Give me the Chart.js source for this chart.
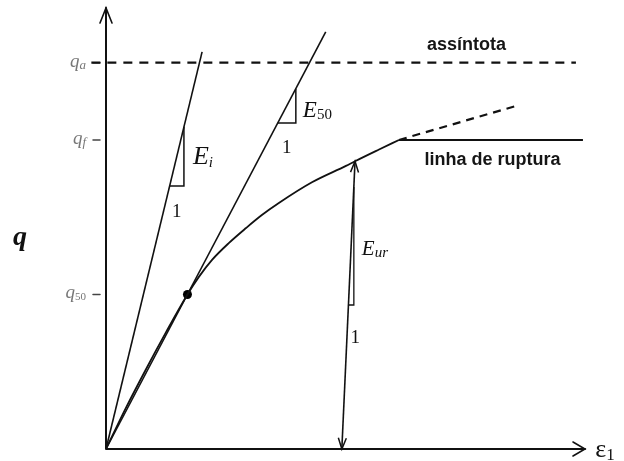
<!DOCTYPE html>
<html>
<head>
<meta charset="utf-8">
<script src="https://cdn.jsdelivr.net/npm/chart.js@4.4.1/dist/chart.umd.min.js"></script>
<style>
  html, body { margin: 0; background: #fff; }
</style>
</head>
<body>
<canvas id="stressStrain" width="624" height="461"></canvas>
<script>
// hyperbolic stress-strain curve (q normalised by qf, strain by failure strain)
const strain = [0, 0.068, 0.137, 0.205, 0.278, 0.317, 0.362, 0.420, 0.478, 0.532, 0.590, 0.703, 0.819, 0.850, 0.932, 1.0];
const deviator = [0, 0.133, 0.259, 0.378, 0.5, 0.557, 0.612, 0.667, 0.715, 0.757, 0.796, 0.863, 0.916, 0.931, 0.969, 1.0];

// reference stress levels on the q axis
const qLevels = [1.25, 1.0, 0.5];
const qSubs = ['a', 'f', '50'];

// straight construction lines, [strain, q]
const tangentEi = [[0, 0], [0.328, 1.285]];
const secantE50 = [[0, 0], [0.75, 1.35]];
const unloadEur = [[0.850, 0.931], [0.805, 0]];
const rupture = [[1.0, 1.0], [1.628, 1.0]];
const hyperTail = [[1.0, 1.0], [1.399, 1.11]];
const asymptote = [[-0.05, 1.25], [1.604, 1.25]];

// slope triangles
const triEi = [[0.217, 0.851], [0.266, 0.851], [0.266, 1.043]];
const triE50 = [[0.586, 1.055], [0.648, 1.055], [0.648, 1.166]];
const triEur = [[0.828, 0.466], [0.846, 0.466], [0.846, 0.848]];

// point at half the failure stress
const pointQ50 = [[0.278, 0.5]];

const pts = arr => arr.map(([x, y]) => ({ x, y }));
const ink = '#111';

function lineSet(arr, width, dash) {
  return {
    data: pts(arr),
    showLine: true,
    borderColor: ink,
    borderWidth: width,
    borderDash: dash || [],
    pointRadius: 0,
    fill: false,
    clip: false
  };
}

function arrowHead(ctx, x1, y1, x2, y2, len, half) {
  const a = Math.atan2(y2 - y1, x2 - x1);
  const c = Math.cos(a), s = Math.sin(a);
  ctx.beginPath();
  ctx.moveTo(x2 - len * c + half * s, y2 - len * s - half * c);
  ctx.lineTo(x2, y2);
  ctx.lineTo(x2 - len * c - half * s, y2 - len * s + half * c);
  ctx.stroke();
}

// base letter followed by a lowered subscript
function subText(ctx, base, baseFont, sub, subFont, x, y, dy, alignRight) {
  ctx.font = baseFont;
  const w1 = ctx.measureText(base).width;
  ctx.font = subFont;
  const w2 = ctx.measureText(sub).width;
  const x0 = alignRight ? x - w1 - w2 : x;
  ctx.textAlign = 'left';
  ctx.font = baseFont;
  ctx.fillText(base, x0, y);
  ctx.font = subFont;
  ctx.fillText(sub, x0 + w1, y + dy);
}

const annotate = {
  id: 'annotate',
  beforeDatasetsDraw(chart) {
    const { ctx, chartArea, scales: { x, y } } = chart;
    const ox = x.getPixelForValue(0), oy = y.getPixelForValue(0);
    ctx.save();
    ctx.strokeStyle = ink;
    ctx.lineWidth = 2;
    ctx.lineCap = 'round';
    ctx.beginPath();
    ctx.moveTo(ox, oy);
    ctx.lineTo(ox, chartArea.top);
    ctx.moveTo(ox, oy);
    ctx.lineTo(chartArea.right, oy);
    ctx.stroke();
    ctx.lineWidth = 1.6;
    arrowHead(ctx, ox, oy, ox, chartArea.top, 15, 6);
    arrowHead(ctx, ox, oy, chartArea.right, oy, 12, 7);

    // ticks and labels on the q axis
    ctx.fillStyle = '#777';
    ctx.strokeStyle = '#444';
    ctx.lineWidth = 1.5;
    qLevels.forEach((q, i) => {
      const py = y.getPixelForValue(q);
      ctx.beginPath();
      ctx.moveTo(ox - 13, py);
      ctx.lineTo(ox - 6, py);
      ctx.stroke();
      const subFont = qSubs[i] === '50' ? '11px "Liberation Serif"' : 'italic 13px "Liberation Serif"';
      subText(ctx, 'q', 'italic 19px "Liberation Serif"', qSubs[i], subFont, ox - 20, py + 4, 2, true);
    });
    ctx.restore();
  },
  afterDatasetsDraw(chart) {
    const { ctx, scales: { x, y } } = chart;
    const px = v => x.getPixelForValue(v), py = v => y.getPixelForValue(v);
    ctx.save();
    ctx.strokeStyle = ink;
    ctx.fillStyle = ink;
    ctx.lineWidth = 1.5;

    // unload/reload arrow heads
    const [top, bot] = unloadEur;
    arrowHead(ctx, px(bot[0]), py(bot[1]), px(top[0]), py(top[1]), 11, 4);
    arrowHead(ctx, px(top[0]), py(top[1]), px(bot[0]), py(bot[1]), 11, 4);

    const eFont = s => 'italic ' + s + 'px "Liberation Serif"';
    const oneFont = '19px "Liberation Serif"';
    ctx.textBaseline = 'alphabetic';

    // Ei
    const eiX = px(triEi[1][0]), eiTop = py(triEi[2][1]), eiBot = py(triEi[1][1]);
    subText(ctx, 'E', eFont(26), 'i', eFont(15), eiX + 9, (eiTop + eiBot) / 2 + 8, 3, false);
    ctx.font = oneFont; ctx.textAlign = 'center';
    ctx.fillText('1', (px(triEi[0][0]) + eiX) / 2, eiBot + 31);

    // E50
    const e5X = px(triE50[1][0]), e5Top = py(triE50[2][1]), e5Bot = py(triE50[1][1]);
    subText(ctx, 'E', eFont(23), '50', '15px "Liberation Serif"', e5X + 7, (e5Top + e5Bot) / 2 + 11, 2, false);
    ctx.font = oneFont; ctx.textAlign = 'center';
    ctx.fillText('1', (px(triE50[0][0]) + e5X) / 2, e5Bot + 30);

    // Eur
    const euX = px(triEur[1][0]), euTop = py(triEur[2][1]), euBot = py(triEur[1][1]);
    subText(ctx, 'E', eFont(21), 'ur', eFont(15), euX + 8, (euTop + euBot) / 2 + 9, 2, false);
    ctx.font = oneFont; ctx.textAlign = 'center';
    ctx.fillText('1', (px(triEur[0][0]) + euX) / 2 + 4, euBot + 38);

    // axis titles
    ctx.textAlign = 'left';
    ctx.font = 'bold italic 28px "Liberation Serif"';
    ctx.fillText('q', 13, py(0.66));
    subText(ctx, 'ε', '26px "Liberation Serif"', '1', '17px "Liberation Serif"', px(1.67), py(0) + 8, 3, false);

    // captions
    ctx.font = 'bold 18px "Liberation Sans"';
    ctx.fillStyle = '#151515';
    ctx.fillText('assíntota', px(1.096), py(1.29));
    ctx.fillText('linha de ruptura', px(1.087), py(0.92));
    ctx.restore();
  }
};

const curveSet = lineSet(strain.map((e, i) => [e, deviator[i]]), 1.8);
curveSet.cubicInterpolationMode = 'monotone';

new Chart(document.getElementById('stressStrain'), {
  type: 'scatter',
  data: {
    datasets: [
      curveSet,
      lineSet(rupture, 2),
      lineSet(hyperTail, 2.2, [8, 6]),
      lineSet(asymptote, 2.2, [9, 7]),
      lineSet(tangentEi, 1.6),
      lineSet(secantE50, 1.6),
      lineSet(unloadEur, 1.6),
      lineSet(triEi, 1.5),
      lineSet(triE50, 1.5),
      lineSet(triEur, 1.3),
      {
        data: pts(pointQ50),
        pointRadius: 4.5,
        pointBackgroundColor: '#000',
        pointBorderWidth: 0,
        showLine: false
      }
    ]
  },
  options: {
    responsive: false,
    animation: false,
    events: [],
    layout: { padding: { left: 106, right: 39, top: 8, bottom: 12 } },
    plugins: { legend: { display: false }, tooltip: { enabled: false } },
    scales: {
      x: { type: 'linear', min: 0, max: 1.635, display: false },
      y: { type: 'linear', min: 0, max: 1.427, display: false }
    }
  },
  plugins: [annotate]
});
</script>
</body>
</html>
